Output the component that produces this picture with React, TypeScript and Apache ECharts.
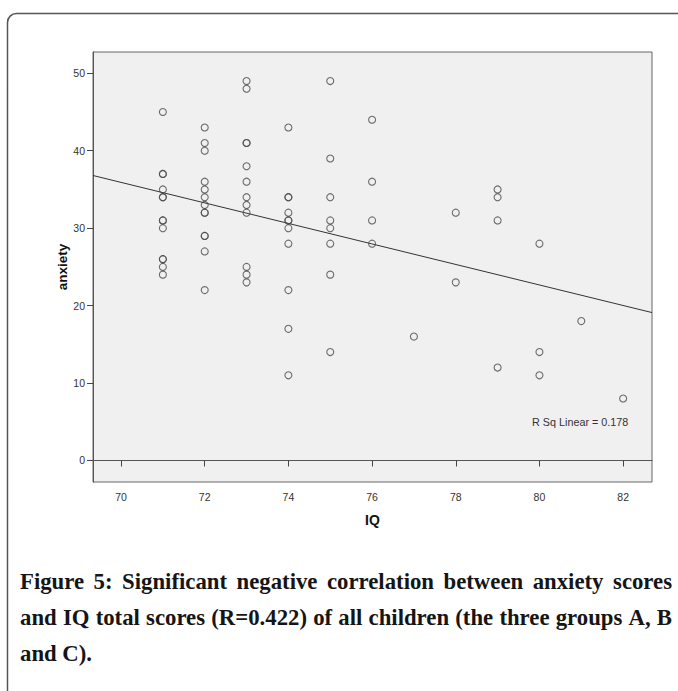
import React, { useEffect, useRef } from "react";
import * as echarts from "echarts";

// IQ value and anxiety value of every child
const iq71 = [45, 37, 37, 35, 34, 34, 31, 31, 30, 26, 26, 25, 24];
const iq72 = [43, 41, 40, 36, 35, 34, 33, 32, 32, 29, 29, 27, 22];
const iq73 = [49, 48, 41, 41, 38, 36, 34, 33, 32, 25, 24, 23];
const iq74 = [43, 34, 34, 32, 31, 31, 30, 28, 22, 17, 11];
const iq75 = [49, 39, 34, 31, 30, 28, 24, 14];
const iq76 = [44, 36, 31, 28];
const iq77 = [16];
const iq78 = [32, 23];
const iq79 = [35, 34, 31, 12];
const iq80 = [28, 14, 11];
const iq81 = [18];
const iq82 = [8];
const iqLevels = [71, 72, 73, 74, 75, 76, 77, 78, 79, 80, 81, 82];
const anxietyByIq = [iq71, iq72, iq73, iq74, iq75, iq76, iq77, iq78, iq79, iq80, iq81, iq82];

// fit line (linear) endpoints at the frame edges
const fitIq = [69.33, 82.69];
const fitAnxiety = [36.8, 19.1];

const xTicks = [70, 72, 74, 76, 78, 80, 82];
const yTicks = [0, 10, 20, 30, 40, 50];
const xRange = [69.33, 82.69];
const yRange = [-2.78, 52.75];

const rSqLabel = "R Sq Linear = 0.178";
const xName = "IQ";
const yName = "anxiety";
const captionLines = [
  "Figure 5: Significant negative correlation between anxiety scores",
  "and IQ total scores (R=0.422) of all children (the three groups A, B",
  "and C).",
];

const CAPTION_FONT_FAMILY = '"Liberation Serif", serif';
const CAPTION_WEIGHT = "bold";

export default function App() {
  const ref = useRef<HTMLDivElement>(null);

  useEffect(() => {
    document.body.style.margin = "0";
    if (!ref.current) return;
    const chart = echarts.init(ref.current, null, { renderer: "svg" });

    const points: number[][] = [];
    iqLevels.forEach((x, i) => {
      anxietyByIq[i].forEach((y) => points.push([x, y]));
    });

    // caption layout (justified)
    const canvas = document.createElement("canvas");
    const ctx = canvas.getContext("2d")!;
    const left = 20;
    const right = 672;
    const lineWidthTarget = right - left;
    let fontSize = 20;
    for (let s = 26; s >= 12; s -= 0.25) {
      ctx.font = `${CAPTION_WEIGHT} ${s}px ${CAPTION_FONT_FAMILY}`;
      if (ctx.measureText(captionLines[1]).width <= lineWidthTarget - 4) {
        fontSize = s;
        break;
      }
    }
    ctx.font = `${CAPTION_WEIGHT} ${fontSize}px ${CAPTION_FONT_FAMILY}`;
    const lineY = [581, 617, 653];
    const captionEls: any[] = [];
    captionLines.forEach((line, li) => {
      const words = line.split(" ");
      const widths = words.map((w) => ctx.measureText(w).width);
      const total = widths.reduce((a, b) => a + b, 0);
      const isLast = li === captionLines.length - 1;
      const gap = isLast
        ? ctx.measureText(" ").width
        : (lineWidthTarget - total) / (words.length - 1);
      let x = left;
      words.forEach((w, wi) => {
        captionEls.push({
          type: "text",
          x,
          y: lineY[li],
          silent: true,
          style: {
            text: w,
            fill: "#151515",
            font: `${CAPTION_WEIGHT} ${fontSize}px ${CAPTION_FONT_FAMILY}`,
            verticalAlign: "middle",
            align: "left",
          },
        });
        x += widths[wi] + gap;
      });
    });

    const labelFont = '"Liberation Sans", Arial, sans-serif';

    chart.setOption({
      animation: false,
      backgroundColor: "#ffffff",
      grid: {
        left: 93,
        top: 52,
        width: 559,
        height: 430,
        show: true,
        backgroundColor: "#f0f0f0",
        borderColor: "#666",
        borderWidth: 1,
      },
      xAxis: {
        type: "value",
        min: xRange[0],
        max: xRange[1],
        name: xName,
        nameLocation: "middle",
        nameGap: 31,
        nameMoveOverlap: false,
        nameTextStyle: { fontFamily: labelFont, fontWeight: "bold", fontSize: 14, color: "#111" },
        axisLine: { show: true, lineStyle: { color: "#555", width: 1 } },
        axisTick: { show: true, length: 6, customValues: xTicks, lineStyle: { color: "#444" } },
        axisLabel: { customValues: xTicks, margin: 9, fontSize: 10.5, color: "#333", fontFamily: labelFont },
        splitLine: { show: false },
      },
      yAxis: {
        type: "value",
        min: yRange[0],
        max: yRange[1],
        name: yName,
        nameLocation: "middle",
        nameRotate: 90,
        nameGap: 24,
        nameMoveOverlap: false,
        nameTextStyle: { fontFamily: labelFont, fontWeight: "bold", fontSize: 13.5, color: "#111" },
        axisLine: { show: true, lineStyle: { color: "#555", width: 1 } },
        axisTick: { show: true, length: 6, customValues: yTicks, lineStyle: { color: "#444" } },
        axisLabel: { customValues: yTicks, margin: 8, fontSize: 10.5, color: "#333", fontFamily: labelFont },
        splitLine: { show: false },
      },
      series: [
        {
          type: "line",
          data: fitIq.map((x, i) => [x, fitAnxiety[i]]),
          symbol: "none",
          silent: true,
          lineStyle: { color: "#333", width: 1 },
          z: 2,
        },
        {
          type: "scatter",
          data: points,
          symbol: "circle",
          symbolSize: 7,
          silent: true,
          itemStyle: { color: "rgba(0,0,0,0)", borderColor: "#4a4a4a", borderWidth: 1.1 },
          z: 3,
        },
      ],
      graphic: [
        {
          type: "rect",
          silent: true,
          shape: { x: 7.5, y: 13.5, width: 720, height: 720, r: 9 },
          style: { fill: "none", stroke: "#555", lineWidth: 1.5 },
        },
        {
          type: "text",
          x: 532,
          y: 422,
          silent: true,
          style: {
            text: rSqLabel,
            fill: "#333",
            font: `10.8px ${labelFont}`,
            verticalAlign: "middle",
            align: "left",
          },
        },
        ...captionEls,
      ],
    });

    return () => chart.dispose();
  }, []);

  return <div ref={ref} style={{ width: 678, height: 691 }} />;
}
